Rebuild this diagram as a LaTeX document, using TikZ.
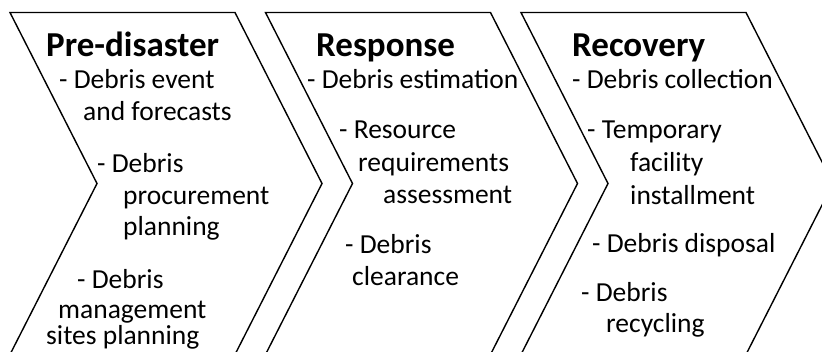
\documentclass[tikz,border=0pt]{standalone}
\usepackage{fontspec}
\setmainfont{Carlito}
\begin{document}
\begin{tikzpicture}[x=1pt,y=-1pt,
  chevron/.style={draw=black,line width=1.4pt,line join=miter,fill=white},
  phase/.style={font=\fontsize{35}{37}\selectfont\bfseries,anchor=base west,inner sep=0pt},
  item/.style={font=\fontsize{27.5}{30}\selectfont,anchor=base west,inner sep=0pt}]
\useasboundingbox (0,0) rectangle (822,351);
\begin{scope}
\clip (0,0) rectangle (822,351);
% three chevrons, each 225 wide with an 87 wide point and notch
\foreach \x in {10,265.5,521} {
  \draw[chevron] (\x,12.5) -- ++(225,0) -- ++(87,171) -- ++(-87,171)
    -- ++(-225,0) -- ++(87,-171) -- cycle;
}
\end{scope}
% pre-disaster phase
\node[phase] (p1) at (46,56) {Pre-disaster};
\node[item] (p1a) at (59,88) {- Debris event};
\node[item] (p1b) at (83,120) {and forecasts};
\node[item] (p1c) at (97,172) {- Debris};
\node[item] (p1d) at (123,204) {procurement};
\node[item] (p1e) at (123,235) {planning};
\node[item] (p1f) at (77,288) {- Debris};
\node[item] (p1g) at (58,318) {management};
\node[item] (p1h) at (46,344) {sites planning};
% response phase
\node[phase] (p2) at (316,56) {Response};
\node[item] (p2a) at (307,88) {- Debris estimation};
\node[item] (p2b) at (339,138) {- Resource};
\node[item] (p2c) at (358,171) {requirements};
\node[item] (p2d) at (383,203) {assessment};
\node[item] (p2e) at (345,253) {- Debris};
\node[item] (p2f) at (352,285) {clearance};
% recovery phase
\node[phase] (p3) at (572,56) {Recovery};
\node[item] (p3a) at (572,88) {- Debris collection};
\node[item] (p3b) at (587,138) {- Temporary};
\node[item] (p3c) at (630,171) {facility};
\node[item] (p3d) at (630,204) {installment};
\node[item] (p3e) at (592,252) {- Debris disposal};
\node[item] (p3f) at (581,301) {- Debris};
\node[item] (p3g) at (606,332) {recycling};
\end{tikzpicture}
\end{document}
